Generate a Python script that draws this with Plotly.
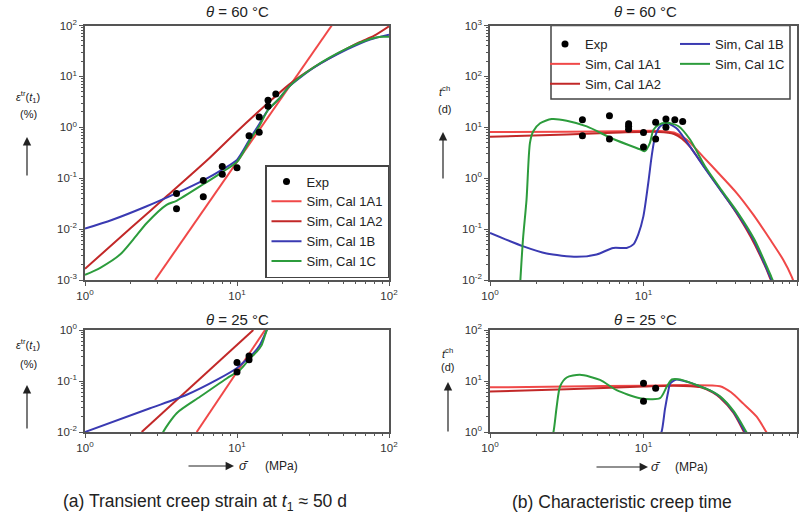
import plotly.graph_objects as go

FONT = "Liberation Sans, Arial, Helvetica, sans-serif"
C_1A1 = "#f04848"
C_1A2 = "#c22828"
C_1B = "#3a3ab2"
C_1C = "#2c9c3c"
AXIS = "#555555"
TXT = "#222222"

# ---------------- (a) transient creep strain, 60 °C ----------------
a60_exp_x = [4, 4, 6, 6, 8, 8, 10, 12, 14, 14, 16, 16, 18]
a60_exp_y = [0.050, 0.025, 0.043, 0.09, 0.17, 0.12, 0.16, 0.68, 1.6, 0.8, 3.4, 2.6, 4.5]

a60_1a1_x = [2.89, 42.0]
a60_1a1_y = [0.001, 100]

a60_1a2_x = [1, 2, 3.5, 6.3, 10, 16, 22, 32, 45, 63, 80, 100]
a60_1a2_y = [0.00166, 0.0105, 0.046, 0.22, 0.83, 3.0, 6.9, 15, 27, 46, 63, 96]

a60_1b_x = [1, 1.5, 2.5, 4, 6, 8, 10, 12.2, 14, 16, 19, 22, 32, 53, 76, 100]
a60_1b_y = [0.0102, 0.0151, 0.0275, 0.051, 0.091, 0.148, 0.229, 0.60, 1.15, 2.19,
            3.7, 6.3, 14.8, 33.9, 53.7, 66]

a60_1c_x = [1, 1.26, 1.7, 2.08, 2.55, 3.44, 4, 6, 8, 10, 12.2, 14, 16, 19, 22, 32,
            53, 76, 89, 100]
a60_1c_y = [0.00126, 0.00174, 0.00316, 0.0063, 0.0132, 0.030, 0.036, 0.076, 0.132,
            0.209, 0.56, 1.05, 2.19, 3.7, 6.3, 15.1, 35.5, 55, 60, 60]

# ---------------- (b) characteristic creep time, 60 °C ----------------
b60_exp_x = [4, 4, 6, 6, 8, 8, 8, 10, 10, 12, 12, 14, 14, 16, 18]
b60_exp_y = [14, 6.8, 16.8, 5.9, 11.7, 10.5, 9.2, 7.9, 4.1, 12.6, 5.9, 14.5, 10, 14, 13]

b60_1a1_x = [1, 3.16, 7.08, 12.6, 15.8, 19.1, 24.5, 31.5, 40.5, 51.9, 66.7, 81.3, 92.3, 95.5]
b60_1a1_y = [8.05, 8.2, 8.4, 8.5, 7.9, 5.75, 2.63, 1.17, 0.51, 0.192, 0.063, 0.025,
             0.0117, 0.0089]

b60_1a2_x = [1, 3.16, 7.08, 12.6, 15.8, 17.8, 20, 24.5, 31.6, 39.8, 50.1, 63.1, 67.6, 70.0]
b60_1a2_y = [6.5, 7.2, 7.9, 8.1, 7.4, 6.0, 4.2, 1.78, 0.60, 0.22, 0.069, 0.0166, 0.01,
             0.0085]

b60_1b_x = [1, 1.65, 2.34, 3.67, 4.95, 6.35, 7.76, 8.59, 9.25, 9.98, 10.74, 11.3, 11.9,
            12.8, 14.2, 16.4, 19.1, 24.5, 31.5, 40.5, 51.9, 66.7, 69.2]
b60_1b_y = [0.084, 0.0457, 0.0331, 0.0285, 0.0316, 0.0427, 0.0427, 0.050, 0.079, 0.178,
            0.805, 2.69, 6.6, 10.4, 12.0, 9.55, 5.25, 1.74, 0.60, 0.209, 0.063, 0.0117,
            0.0089]

b60_1c_x = [1.57, 1.64, 1.73, 1.82, 1.91, 2.12, 2.52, 3.16, 4.27, 6.35, 9.48, 10.2, 11.0,
            11.6, 12.5, 14.2, 16.9, 20.1, 25.1, 32.0, 41.2, 52.7, 67.9, 70.5]
b60_1c_y = [0.0079, 0.063, 0.38, 4.9, 8.3, 12.0, 14.5, 13.5, 10.4, 5.9, 3.7, 3.4, 4.9,
            8.9, 11.2, 12.3, 10.5, 5.75, 1.74, 0.60, 0.209, 0.063, 0.0117, 0.0089]

# ---------------- (a) transient creep strain, 25 °C ----------------
a25_exp_x = [10, 10, 12, 12]
a25_exp_y = [0.23, 0.15, 0.31, 0.26]

a25_1a1_x = [5.43, 15.3]
a25_1a1_y = [0.01, 1.0]

a25_1a2_x = [2.36, 12.8]
a25_1a2_y = [0.01, 1.0]

a25_1b_x = [1, 2.68, 4.67, 7.35, 9.95, 11.2, 12.6, 14.1, 15.8]
a25_1b_y = [0.01, 0.0292, 0.0537, 0.105, 0.178, 0.24, 0.33, 0.50, 1.05]

a25_1c_x = [3.09, 3.27, 4.01, 5.71, 8.55, 10.5, 12.2, 13.5, 14.5, 15.7, 16.2]
a25_1c_y = [0.0063, 0.01, 0.0234, 0.049, 0.112, 0.166, 0.278, 0.376, 0.50, 1.0, 1.2]

# ---------------- (b) characteristic creep time, 25 °C ----------------
b25_exp_x = [10, 10, 12]
b25_exp_y = [9.0, 4.0, 7.2]

b25_1a1_x = [1, 3.16, 10, 20, 31.5, 37.2, 44.7, 54.6, 63.1, 64.6]
b25_1a1_y = [7.5, 7.8, 8.1, 8.3, 7.9, 6.0, 3.6, 2.0, 1.0, 0.89]

b25_1a2_x = [1, 3.16, 10, 15.8, 23.3, 28.2, 31.5, 38.5, 45.2, 46.2]
b25_1a2_y = [6.2, 6.9, 7.8, 8.1, 7.6, 6.0, 4.7, 2.4, 1.0, 0.89]

b25_1b_x = [12.7, 13.1, 13.8, 14.5, 14.9, 16.4, 20, 23.3, 26.9, 31.5, 38.5, 45.8, 46.8]
b25_1b_y = [0.89, 1.0, 2.8, 6.3, 8.9, 10.7, 9.3, 7.9, 6.6, 4.9, 2.5, 1.0, 0.89]

b25_1c_x = [2.54, 2.59, 2.72, 2.86, 3.16, 3.85, 5.21, 6.68, 9.48, 12.8, 14.2, 15.3, 17.3,
            23.3, 26.9, 31.5, 38.9, 46.8, 47.9]
b25_1c_y = [0.89, 1.0, 3.16, 7.8, 11.7, 13.2, 10.5, 6.6, 4.6, 4.6, 7.8, 10.7, 10.7, 7.9,
            6.6, 5.0, 2.5, 1.0, 0.89]

x_tickvals = [1, 10, 100]
x_ticktext = ["10<sup>0</sup>", "10<sup>1</sup>", "10<sup>2</sup>"]


def pow_labels(lo, hi):
    vals = [10.0 ** k for k in range(lo, hi + 1)]
    text = ["10<sup>%d</sup>" % k for k in range(lo, hi + 1)]
    return vals, text


names = ["Sim, Cal 1A1", "Sim, Cal 1A2", "Sim, Cal 1B", "Sim, Cal 1C"]
colors = [C_1A1, C_1A2, C_1B, C_1C]

# axis suffix, curves, exp data, legend ids (1A1, 1A2, 1B, 1C, Exp), show legend
panels = [
    ("", [(a60_1a1_x, a60_1a1_y), (a60_1a2_x, a60_1a2_y), (a60_1b_x, a60_1b_y),
          (a60_1c_x, a60_1c_y)], (a60_exp_x, a60_exp_y),
     ["legend"] * 5, True),
    ("2", [(b60_1a1_x, b60_1a1_y), (b60_1a2_x, b60_1a2_y), (b60_1b_x, b60_1b_y),
           (b60_1c_x, b60_1c_y)], (b60_exp_x, b60_exp_y),
     ["legend2", "legend2", "legend3", "legend3", "legend2"], True),
    ("3", [(a25_1a1_x, a25_1a1_y), (a25_1a2_x, a25_1a2_y), (a25_1b_x, a25_1b_y),
           (a25_1c_x, a25_1c_y)], (a25_exp_x, a25_exp_y),
     ["legend"] * 5, False),
    ("4", [(b25_1a1_x, b25_1a1_y), (b25_1a2_x, b25_1a2_y), (b25_1b_x, b25_1b_y),
           (b25_1c_x, b25_1c_y)], (b25_exp_x, b25_exp_y),
     ["legend"] * 5, False),
]

fig = go.Figure()
for suffix, curves, exp, legs, show in panels:
    xa, ya = "x" + suffix, "y" + suffix
    for i, ((cx, cy), name, col) in enumerate(zip(curves, names, colors)):
        fig.add_trace(go.Scatter(
            x=cx, y=cy, mode="lines", name=name, xaxis=xa, yaxis=ya,
            line=dict(color=col, width=2, shape="spline", smoothing=0.7),
            legend=legs[i], showlegend=show, legendrank=i + 2))
    fig.add_trace(go.Scatter(
        x=exp[0], y=exp[1], mode="markers", name="Exp", xaxis=xa, yaxis=ya,
        marker=dict(color="black", size=7), legend=legs[4], showlegend=show,
        legendrank=1))


def x_axis(domain, anchor):
    return dict(type="log", domain=domain, range=[0, 2], anchor=anchor,
                showline=True, mirror=True, linecolor=AXIS, linewidth=1.5,
                ticks="outside", ticklen=4, tickcolor=AXIS, tickwidth=1,
                tickvals=x_tickvals, ticktext=x_ticktext,
                tickfont=dict(size=11.5, color="#333", family=FONT),
                showgrid=False, zeroline=False,
                minor=dict(ticks="outside", ticklen=2, tickcolor=AXIS, dtick="D1"))


def y_axis(domain, anchor, lo, hi):
    vals, text = pow_labels(lo, hi)
    return dict(type="log", domain=domain, range=[lo, hi], anchor=anchor,
                showline=True, mirror=True, linecolor=AXIS, linewidth=1.5,
                ticks="outside", ticklen=4, tickcolor=AXIS, tickwidth=1,
                tickvals=vals, ticktext=text,
                tickfont=dict(size=11.5, color="#333", family=FONT),
                showgrid=False, zeroline=False,
                minor=dict(ticks="outside", ticklen=2, tickcolor=AXIS, dtick="D1"))


W, H = 804, 515
L_DOM = [85 / W, 389 / W]
R_DOM = [490 / W, 797 / W]
TOP_DOM = [1 - 280 / H, 1 - 25.5 / H]
BOT_DOM = [1 - 432 / H, 1 - 330 / H]

leg_font = dict(size=13, family=FONT, color=TXT)

fig.update_layout(
    width=W, height=H, margin=dict(l=0, r=0, t=0, b=0, autoexpand=False),
    paper_bgcolor="white", plot_bgcolor="white",
    font=dict(family=FONT, color=TXT),
    xaxis=x_axis(L_DOM, "y"), yaxis=y_axis(TOP_DOM, "x", -3, 2),
    xaxis2=x_axis(R_DOM, "y2"), yaxis2=y_axis(TOP_DOM, "x2", -2, 3),
    xaxis3=x_axis(L_DOM, "y3"), yaxis3=y_axis(BOT_DOM, "x3", -2, 0),
    xaxis4=x_axis(R_DOM, "y4"), yaxis4=y_axis(BOT_DOM, "x4", 0, 2),
    legend=dict(x=265 / W, y=1 - 165 / H, xanchor="left", yanchor="top",
                bgcolor="white", bordercolor="#444", borderwidth=1.5,
                font=leg_font, itemwidth=30, tracegroupgap=0),
    # two-column legend of the right panel: one legend per column inside a frame
    legend2=dict(x=545 / W, y=1 - 29 / H, xanchor="left", yanchor="top",
                 bgcolor="rgba(0,0,0,0)", borderwidth=0,
                 font=leg_font, itemwidth=30, tracegroupgap=0),
    legend3=dict(x=675 / W, y=1 - 29 / H, xanchor="left", yanchor="top",
                 bgcolor="rgba(0,0,0,0)", borderwidth=0,
                 font=leg_font, itemwidth=30, tracegroupgap=0),
    shapes=[dict(type="rect", xref="paper", yref="paper",
                 x0=551 / W, x1=790 / W, y0=1 - 99 / H, y1=1 - 25.5 / H,
                 line=dict(color="#444", width=1.5), fillcolor="white",
                 layer="below")],
)


def text(x, y, s, size=11):
    fig.add_annotation(x=x / W, y=1 - y / H, xref="paper", yref="paper", text=s,
                       showarrow=False, font=dict(size=size, family=FONT, color=TXT),
                       xanchor="center", yanchor="middle")


def arrow(x0, y0, x1, y1):
    # tail at (x0, y0), head at (x1, y1), in pixels
    fig.add_annotation(x=x1 / W, y=1 - y1 / H, xref="paper", yref="paper",
                       ax=x0 - x1, ay=y0 - y1, axref="pixel", ayref="pixel",
                       text="", showarrow=True, arrowhead=2, arrowsize=1.4,
                       arrowwidth=1.2, arrowcolor=TXT)


# panel titles
text(237, 12, "<i>θ</i> = 60 °C", 15)
text(645, 12, "<i>θ</i> = 60 °C", 15)
text(237, 319, "<i>θ</i> = 25 °C", 15)
text(645, 319, "<i>θ</i> = 25 °C", 15)

# y-axis labels with upward arrows
eps = "<i>ε</i><sup>tr</sup>(<i>t</i><sub>1</sub>)"
text(28, 97, eps, 11)
text(28, 114, "(%)", 11)
arrow(27, 177, 27, 137)
text(28, 345, eps, 11)
text(28, 364, "(%)", 11)
arrow(27, 430, 27, 385)

tch = "<i>t</i><sup>ch</sup>"
text(445, 91, tch, 11)
text(445, 109, "(d)", 11)
arrow(443, 180, 443, 132)
text(447, 353, tch, 11)
text(447, 367, "(d)", 11)
arrow(448, 433, 448, 382)

# x-axis labels with rightward arrows
arrow(187, 466, 234, 466)
text(244, 466, "<i>σ̄</i>", 12.5)
text(281, 466, "(MPa)", 12)
arrow(595, 467, 648, 467)
text(656, 467, "<i>σ̄</i>", 12.5)
text(691, 467, "(MPa)", 12)

# captions
text(205, 502, "(a) Transient creep strain at <i>t</i><sub>1</sub> ≈ 50 d", 17.5)
text(622, 502, "(b) Characteristic creep time", 17.5)

fig.write_html("out.html")
